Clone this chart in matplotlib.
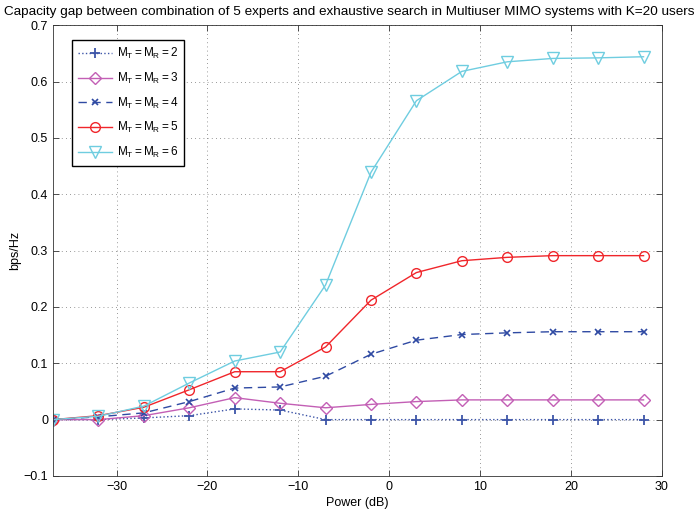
import numpy as np
import matplotlib
matplotlib.use("Agg")
import matplotlib.pyplot as plt

plt.rcParams["font.family"] = ["Liberation Sans", "DejaVu Sans"]
plt.rcParams["mathtext.fontset"] = "custom"
plt.rcParams["mathtext.rm"] = "Liberation Sans"
plt.rcParams["mathtext.it"] = "Liberation Sans"

# Power grid (dB) and capacity gap (bps/Hz) per antenna configuration
power_db = [-37, -32, -27, -22, -17, -12, -7, -2, 3, 8, 13, 18, 23, 28]
gap_m2 = [0, 0.0, 0.003, 0.007, 0.019, 0.017, 0.0, 0.0, 0.0, 0.0, 0.0, 0.0, 0.0, 0.0]
gap_m3 = [0, 0.0, 0.007, 0.021, 0.039, 0.029, 0.021, 0.027, 0.032, 0.035, 0.035, 0.035, 0.035, 0.035]
gap_m4 = [0, 0.005, 0.012, 0.032, 0.056, 0.058, 0.077, 0.116, 0.141, 0.151, 0.154, 0.156, 0.156, 0.156]
gap_m5 = [0, 0.007, 0.022, 0.053, 0.085, 0.085, 0.129, 0.212, 0.261, 0.282, 0.288, 0.291, 0.291, 0.291]
gap_m6 = [0, 0.006, 0.024, 0.065, 0.104, 0.12, 0.239, 0.439, 0.566, 0.618, 0.635, 0.641, 0.642, 0.644]

labels = [r"$\mathregular{M_T{=}M_R{=}%d}$" % n for n in (2, 3, 4, 5, 6)]

fig = plt.figure(figsize=(6.98, 5.14), dpi=100)
ax = fig.add_axes([0.076, 0.074, 0.872, 0.877])

ax.plot(power_db, gap_m2, ":", color="#3d55a8", marker="+", ms=7, mew=1.3, lw=1.0, label=labels[0])
ax.plot(power_db, gap_m3, "-", color="#c35fb5", marker="D", ms=6, mfc="none", mew=1.0, lw=1.0, label=labels[1])
ax.plot(power_db, gap_m4, "--", color="#2f4aa3", marker="x", ms=4, mew=1.2, lw=1.0, dashes=(6, 4), label=labels[2])
ax.plot(power_db, gap_m5, "-", color="#f0262b", marker="o", ms=7, mfc="none", mew=1.0, lw=1.0, label=labels[3])
ax.plot(power_db, gap_m6, "-", color="#6fcde0", marker="v", ms=8, mfc="none", mew=1.0, lw=1.0, label=labels[4])

ax.set_xlim(-37, 30)
ax.set_ylim(-0.1, 0.7)
ax.set_xticks([-30, -20, -10, 0, 10, 20, 30])
ax.set_yticks(np.arange(-0.1, 0.71, 0.1))
ax.set_yticklabels(["\u22120.1", "0", "0.1", "0.2", "0.3", "0.4", "0.5", "0.6", "0.7"])
ax.set_xticklabels(["\u221230", "\u221220", "\u221210", "0", "10", "20", "30"])
ax.grid(True, linestyle=(0, (1, 4)), color="#777777", lw=0.6)
ax.tick_params(direction="in", top=True, right=True, labelsize=9, length=4, width=0.6,
               colors="#333333", labelcolor="black")
for s in ax.spines.values():
    s.set_linewidth(0.6)
    s.set_color("#333333")

ax.set_xlabel("Power (dB)", fontsize=9, labelpad=3)
ax.set_ylabel("bps/Hz", fontsize=9, labelpad=2)
fig.text(0.5, 1 - 12 / 514,
         "Capacity gap between combination of 5 experts and exhaustive search in Multiuser MIMO systems with K=20 users",
         fontsize=9.7, ha="center", va="center")

leg = ax.legend(loc="upper left", bbox_to_anchor=(0.031, 0.967), borderaxespad=0,
                fontsize=8.5, fancybox=False, framealpha=1, edgecolor="black",
                handlelength=2.9, labelspacing=0.82, handletextpad=0.4, borderpad=0.5)
leg.get_frame().set_linewidth(1.0)

fig.savefig("out.png", dpi=100)
